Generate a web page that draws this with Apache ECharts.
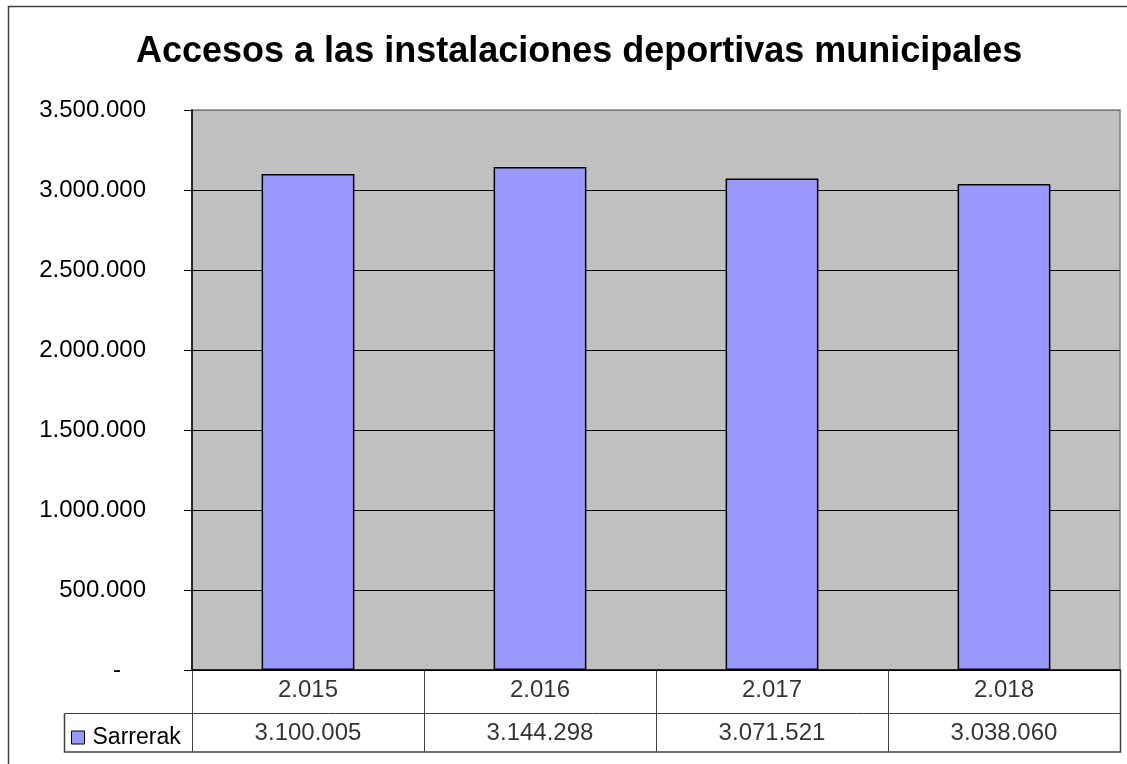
<!DOCTYPE html>
<html>
<head>
<meta charset="utf-8">
<script src="https://cdn.jsdelivr.net/npm/echarts@6/dist/echarts.min.js"></script>
<style>
html,body{margin:0;padding:0;background:#fff;}
#chart{width:1127px;height:764px;}
</style>
</head>
<body>
<div id="chart"></div>
<script>
const titleText = 'Accesos a las instalaciones deportivas municipales';
const categories = ['2.015', '2.016', '2.017', '2.018'];
const seriesName = 'Sarrerak';
const values = [3100005, 3144298, 3071521, 3038060];
const valueLabels = ['3.100.005', '3.144.298', '3.071.521', '3.038.060'];
const yTickLabels = ['-', '500.000', '1.000.000', '1.500.000', '2.000.000', '2.500.000', '3.000.000', '3.500.000'];

const FONT = '"Liberation Sans", Arial, sans-serif';
const chart = echarts.init(document.getElementById('chart'), null, {renderer: 'canvas'});

const option = {
  animation: false,
  backgroundColor: '#fff',
  title: {
    text: titleText,
    left: 131,
    top: 29,
    padding: 5,
    textStyle: {fontFamily: FONT, fontSize: 36, fontWeight: 'bold', color: '#000'}
  },
  legend: {
    left: 71,
    top: 726,
    padding: 0,
    icon: 'rect',
    itemWidth: 13,
    itemHeight: 13,
    itemGap: 6,
    data: [seriesName],
    textStyle: {fontFamily: FONT, fontSize: 23, color: '#000', padding: [0, 0, 0, 3]},
    itemStyle: {borderColor: '#000', borderWidth: 1}
  },
  grid: [
    {left: 192, top: 110, width: 928, height: 560, show: true, backgroundColor: '#C0C0C0', borderColor: '#808080', borderWidth: 1.5},
    {left: 192, top: 670, width: 928, height: 82, show: false}
  ],
  xAxis: [
    {
      type: 'category', gridIndex: 0, data: categories,
      axisLine: {show: true, lineStyle: {color: '#000', width: 1.5}},
      axisTick: {show: false},
      axisLabel: {show: false},
      splitLine: {show: false}
    },
    {
      type: 'category', gridIndex: 1, data: categories, position: 'top',
      axisLine: {show: false},
      axisTick: {show: false},
      axisLabel: {show: false},
      splitLine: {show: true, lineStyle: {color: '#404040', width: 1}}
    }
  ],
  yAxis: [
    {
      type: 'value', gridIndex: 0, min: 0, max: 3500000, interval: 500000,
      axisLine: {show: true, lineStyle: {color: '#000', width: 1.5}},
      axisTick: {show: true, length: 8, lineStyle: {color: '#000', width: 1}},
      axisLabel: {
        margin: 46, fontFamily: FONT, fontSize: 24, color: '#000',
        formatter: function (v) {
          const i = Math.round(v / 500000);
          return i === 0 ? '{d|' + yTickLabels[0] + '}' : yTickLabels[i];
        },
        rich: {d: {fontFamily: FONT, fontSize: 24, color: '#000', padding: [0, 25, 0, 0]}}
      },
      splitLine: {show: true, lineStyle: {color: ['#000', '#000', '#000', '#000', '#000', '#000', '#000', '#808080'], width: 1}}
    },
    {
      type: 'value', gridIndex: 1, min: 0, max: 82, interval: 41, inverse: true,
      axisLine: {show: false}, axisTick: {show: false}, axisLabel: {show: false},
      splitLine: {show: false}
    }
  ],
  graphic: [
    {type: 'rect', shape: {x: 8.5, y: 6.5, width: 1140, height: 780}, style: {fill: 'none', stroke: '#404040', lineWidth: 1.5}, silent: true},
    {type: 'polyline', shape: {points: [[64.5, 713.5], [1120.5, 713.5]]}, style: {stroke: '#404040', lineWidth: 1}, silent: true},
    {type: 'polyline', shape: {points: [[64.5, 713.5], [64.5, 752], [1120.5, 752], [1120.5, 670]]}, style: {fill: 'none', stroke: '#404040', lineWidth: 1.5}, silent: true},
    {type: 'polyline', shape: {points: [[192.5, 670], [192.5, 752]]}, style: {stroke: '#404040', lineWidth: 1}, silent: true}
  ],
  series: [
    {
      name: seriesName,
      type: 'bar',
      xAxisIndex: 0, yAxisIndex: 0,
      data: values,
      barWidth: '40%',
      itemStyle: {color: '#9999FF', borderColor: '#000', borderWidth: 1.5}
    },
    {
      name: 'years',
      type: 'scatter',
      xAxisIndex: 1, yAxisIndex: 1,
      symbolSize: 0,
      data: categories.map((c, i) => [i, 20.5]),
      label: {show: true, position: 'inside', formatter: p => categories[p.dataIndex], fontFamily: FONT, fontSize: 24, color: '#000'},
      silent: true
    },
    {
      name: 'vals',
      type: 'scatter',
      xAxisIndex: 1, yAxisIndex: 1,
      symbolSize: 0,
      data: values.map((v, i) => [i, 63.5]),
      label: {show: true, position: 'inside', formatter: p => valueLabels[p.dataIndex], fontFamily: FONT, fontSize: 24, color: '#000'},
      silent: true
    }
  ]
};
chart.setOption(option);
</script>
</body>
</html>
